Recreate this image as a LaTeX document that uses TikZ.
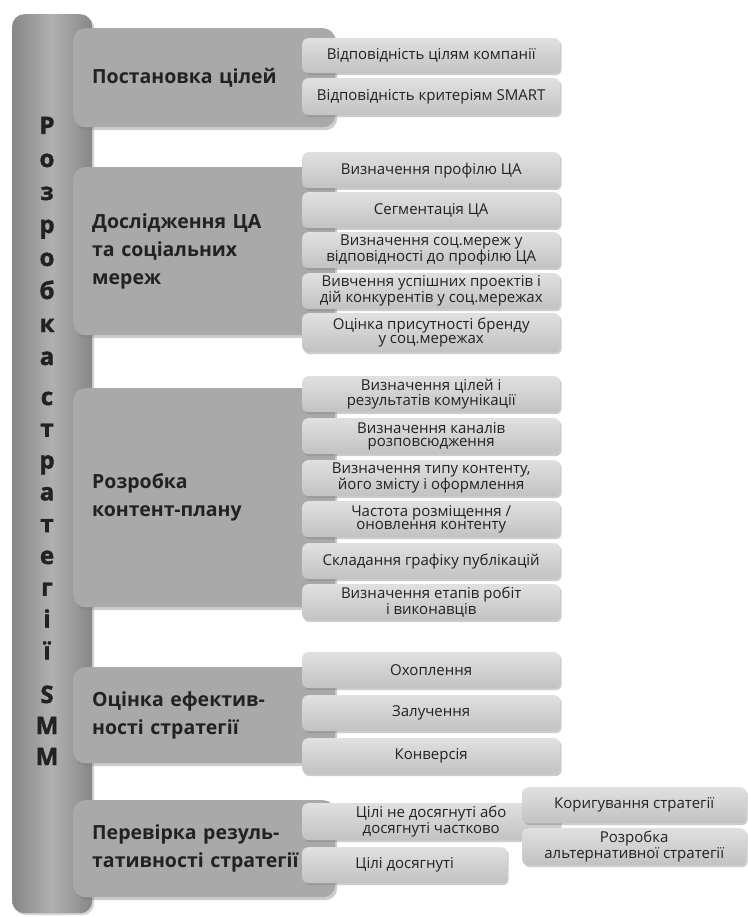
\documentclass[tikz,border=0pt]{standalone}
\usepackage{fontspec}
\setmainfont{Open Sans}
\newfontfamily\sidefont{Open Sans}[BoldFeatures={FakeBold=1.6}]
\usetikzlibrary{shadows}

\definecolor{ink}{HTML}{222222}
\definecolor{barmid}{HTML}{B0B0B0}
\definecolor{baredge}{HTML}{878787}
\definecolor{mainfill}{HTML}{A9A9A9}
\definecolor{subtop}{HTML}{E0E0E0}
\definecolor{subbot}{HTML}{C2C2C2}

\begin{document}
\begin{tikzpicture}[x=1pt,y=-1pt,line cap=round] %% px grid, y down
	\tikzstyle{bar}=[rounded corners=12pt,left color=baredge,right color=baredge,middle color=barmid,anchor=north west,inner sep=0pt,drop shadow={shadow xshift=2pt,shadow yshift=-2pt,opacity=.35}];
	\tikzstyle{title}=[anchor=base,inner sep=0pt,text=ink,font=\sidefont\fontsize{24}{24}\selectfont\bfseries];
	\tikzstyle{main}=[rounded corners=12pt,fill=mainfill,anchor=north west,minimum width=262,inner xsep=19pt,text width=224,align=left,text=ink,font=\fontsize{19.5}{28}\selectfont\bfseries,drop shadow={shadow xshift=2pt,shadow yshift=-3pt,opacity=.4}];
	\tikzstyle{sub}=[rounded corners=6pt,top color=subtop,bottom color=subbot,anchor=north west,minimum width=258,minimum height=36,inner sep=1pt,align=center,text=ink,font=\fontsize{15}{13.5}\selectfont,drop shadow={shadow xshift=1.5pt,shadow yshift=-2pt,opacity=.4}];
	\useasboundingbox (0,0) rectangle (747,917);
	%% side bar
	\node[bar,minimum width=80,minimum height=899] (bar) at (12,14) {};
	\foreach \ch [count=\i] in {Р,о,з,р,о,б,к,а} \node[title] (ra\i) at (47,{134+33*(\i-1)}) {\ch};
	\foreach \ch [count=\i] in {с,т,р,а,т,е,г,і,ї} \node[title] (st\i) at (47,{405+31.8*(\i-1)}) {\ch};
	\foreach \ch [count=\i] in {S,M,M} \node[title] (smm\i) at (47,{703+31*(\i-1)}) {\ch};
	%% main steps
	\node[main,minimum height=99] (goal) at (73,28) {Постановка цілей};
	\node[main,minimum height=168] (research) at (73,167) {Дослідження ЦА\\та соціальних\\мереж};
	\node[main,minimum height=219] (content) at (73,388) {Розробка\\контент-плану};
	\node[main,minimum height=96] (eval) at (73,667) {Оцінка ефектив-\\ності стратегії};
	\node[main,minimum height=97] (check) at (73,800) {Перевірка резуль-\\тативності стратегії};
	%% goal
	\node[sub,minimum height=35] (goal1) at (302,38) {Відповідність цілям компанії};
	\node[sub,minimum height=37] (goal2) at (302,78) {Відповідність критеріям SMART};
	%% research
	\node[sub] (res1) at (302,152) {Визначення профілю ЦА};
	\node[sub] (res2) at (302,192) {Сегментація ЦА};
	\node[sub] (res3) at (302,232) {Визначення соц.мереж у\\відповідності до профілю ЦА};
	\node[sub] (res4) at (302,273) {Вивчення успішних проектів і\\дій конкурентів у соц.мережах};
	\node[sub,minimum height=39] (res5) at (302,313) {Оцінка присутності бренду\\у соц.мережах};
	%% content
	\node[sub] (con1) at (302,376) {Визначення цілей і\\результатів комунікації};
	\node[sub] (con2) at (302,418) {Визначення каналів\\розповсюдження};
	\node[sub] (con3) at (302,460) {Визначення типу контенту,\\його змісту і оформлення};
	\node[sub] (con4) at (302,501) {Частота розміщення /\\оновлення контенту};
	\node[sub] (con5) at (302,543) {Складання графіку публікацій};
	\node[sub] (con6) at (302,584) {Визначення етапів робіт\\і виконавців};
	%% eval
	\node[sub] (ev1) at (302,652) {Охоплення};
	\node[sub] (ev2) at (302,695) {Залучення};
	\node[sub] (ev3) at (302,738) {Конверсія};
	%% check
	\node[sub,minimum height=37] (notdone) at (302,803) {Цілі не досягнуті або\\досягнуті частково};
	\node[sub,minimum width=224] (fix) at (522,787) {Коригування стратегії};
	\node[sub,minimum width=224,minimum height=37] (alt) at (522,828) {Розробка\\альтернативної стратегії};
	\node[sub,minimum width=205] (done) at (302,847) {Цілі досягнуті};
\end{tikzpicture}
\end{document}
